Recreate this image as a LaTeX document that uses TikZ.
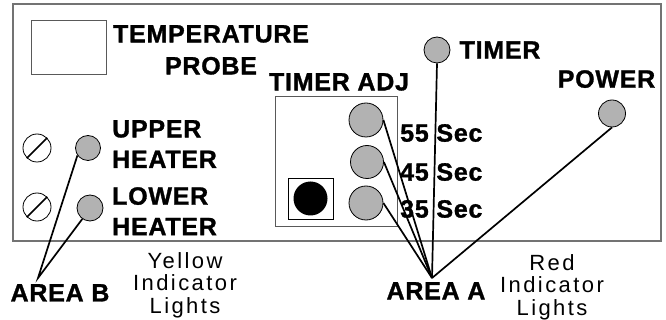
\documentclass[tikz,border=0pt]{standalone}
\usepackage{fontspec}
\setmainfont{Liberation Sans}
\newfontfamily\lblfont[LetterSpace=3, FakeBold=1.2]{Liberation Sans Bold}
\newfontfamily\notefont[LetterSpace=11]{Liberation Sans}
\usetikzlibrary{positioning}
\tikzset{
  lamp/.style  = {circle, draw=black, line width=0.8pt, fill=black!30, inner sep=0pt},
  screw/.style = {circle, draw=black, line width=0.8pt, fill=white, minimum size=28pt, inner sep=0pt},
  lbl/.style   = {inner sep=0pt, align=center, font=\lblfont\fontsize{25}{30.5}\selectfont},
  note/.style  = {inner sep=0pt, align=center, font=\notefont\fontsize{22}{22.5}\selectfont},
  wire/.style  = {line width=1.7pt, black},
  panel/.style = {draw=black!55, line width=1.4pt},
  pbox/.style  = {draw=black!65, line width=0.8pt, inner sep=0pt},
}

\begin{document}
\begin{tikzpicture}[x=1pt, y=-1pt]
  \useasboundingbox (0,0) rectangle (666,320);
  \draw[panel] (13,4) rectangle (661,241);

  % probe
  \node[pbox, minimum width=75pt, minimum height=54pt] (probe) at (68.5,47) {};
  \node[lbl, anchor=north] (probelbl) at (211,25) {TEMPERATURE\\[1.5pt]PROBE};

  % heaters
  \node[screw] (s1) at (37,148) {};
  \node[screw] (s2) at (37,207) {};
  \node[lamp, minimum size=25pt] (uh) at (88,148) {};
  \node[lamp, minimum size=26pt] (lh) at (90,208) {};
  \node[lbl, align=left, anchor=north west] (uhlbl) at (112,120) {UPPER\\HEATER};
  \node[lbl, align=left, anchor=north west] (lhlbl) at (112,187) {LOWER\\HEATER};

  % timer adjust
  \node[pbox, minimum width=122pt, minimum height=130pt] (adj) at (336,161) {};
  \node[lbl, anchor=north] (adjlbl) at (339,73) {TIMER ADJ};
  \node[pbox, draw=black, minimum width=45pt, minimum height=41pt] (knobbox) at (310.5,198.5) {};
  \node[circle, fill=black, minimum size=34pt, inner sep=0pt] (knob) at (knobbox) {};
  \node[lamp, minimum size=34pt] (t55) at (366,120) {};
  \node[lamp, minimum size=33pt] (t45) at (367,162) {};
  \node[lamp, minimum size=34pt] (t35) at (366,203) {};
  \node[lbl, anchor=west] (s55) at (400,133) {55 Sec};
  \node[lbl, anchor=west] (s45) at (400,172) {45 Sec};
  \node[lbl, anchor=west] (s35) at (400,209) {35 Sec};

  % timer and power
  \node[lamp, minimum size=26pt] (tmr) at (437,50) {};
  \node[lbl, right=9pt of tmr] (tmrlbl) {TIMER};
  \node[lamp, minimum size=27pt] (pwr) at (612,113.5) {};
  \node[lbl, anchor=north] (pwrlbl) at (606.5,70) {POWER};

  % areas
  \coordinate (areaB) at (38,278);
  \coordinate (areaA) at (432,278);
  \node[lbl, anchor=north] (alblB) at (60,284) {AREA B};
  \node[lbl, anchor=north] (alblA) at (436,282) {AREA A};
  \node[note, anchor=north] (yel) at (185,252) {Yellow\\Indicator\\Lights};
  \node[note, anchor=north] (red) at (552,254) {Red\\Indicator\\Lights};

  \draw[wire] (s1.225) -- (s1.45);
  \draw[wire] (s2.225) -- (s2.45);
  \draw[wire] (uh.215) -- (areaB) -- (lh.235);
  \draw[wire] (t55.east) -- (areaA);
  \draw[wire] (t45.east) -- (areaA);
  \draw[wire] (t35.east) -- (areaA);
  \draw[wire] (tmr.south) -- (areaA);
  \draw[wire] (pwr.south) -- (areaA);

\end{tikzpicture}
\end{document}
